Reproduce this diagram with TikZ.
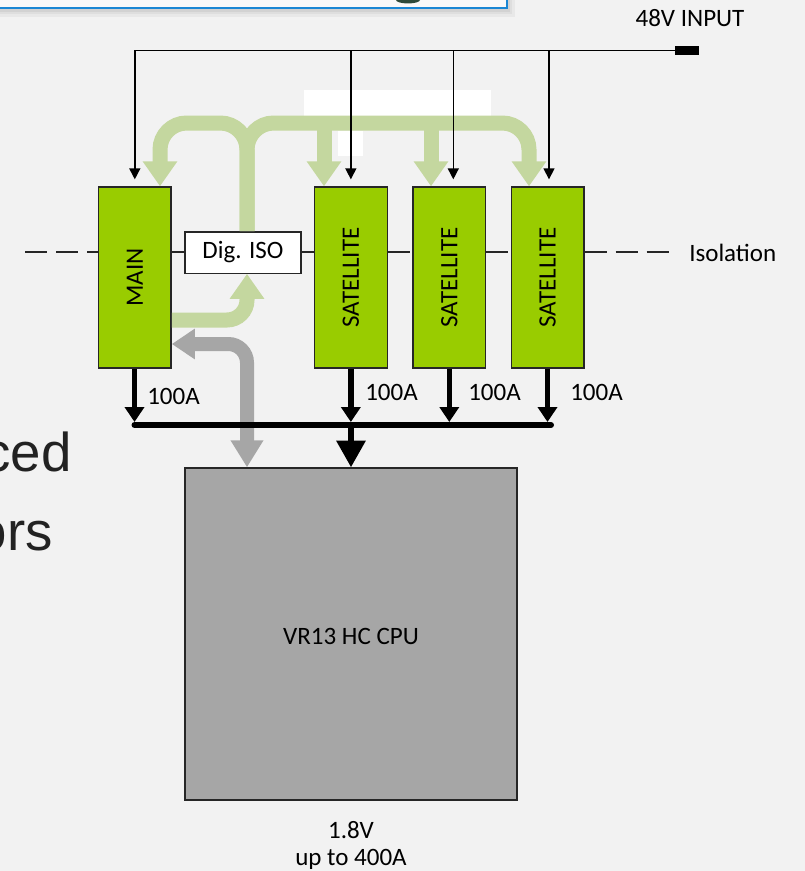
\documentclass[tikz,border=0pt]{standalone}
\usepackage{fontspec}
\setmainfont{Carlito}
\newfontfamily\arialfont{Liberation Sans}
\usetikzlibrary{arrows.meta,calc}
\definecolor{bg}{HTML}{F2F2F2}
\definecolor{boxgreen}{HTML}{99CC00}
\definecolor{bandgreen}{HTML}{C4D79F}
\definecolor{bandgrey}{HTML}{A6A6A6}
\definecolor{edgecol}{HTML}{262626}
\definecolor{slideblue}{HTML}{1B87D4}
\definecolor{blobgreen}{HTML}{2E4A3A}
\definecolor{bigtext}{HTML}{222222}
\begin{document}
\begin{tikzpicture}[x=0.75pt,y=-0.75pt,
  font=\fontsize{18.75}{22}\selectfont,
  unitbox/.style={draw=edgecol, line width=1pt, fill=boxgreen, minimum width=54.5pt, minimum height=135.75pt, inner sep=0pt},
  plainbox/.style={draw=edgecol, line width=1pt, inner sep=0pt},
  lbl/.style={inner sep=0pt},
  gband/.style={draw=bandgreen, line width=11.25pt},
  gtip/.style={-{Triangle[width=24.75pt,length=18.75pt]}},
  feed/.style={draw=black, line width=1.1pt, -{Triangle[width=8.25pt,length=8.25pt]}, shorten >=5.25pt},
  cur/.style={draw=black, line width=4.1pt, -{Triangle[width=14.25pt,length=11.25pt]}},
  isodash/.style={draw=edgecol, line width=1pt, dash pattern=on 16.5pt off 6.75pt},
  isosolid/.style={draw=edgecol, line width=1pt}
]
\useasboundingbox (0,0) rectangle (805,871);
\fill[bg] (0,0) rectangle (805,871);

% slide box remnant at top
\fill[black, opacity=0.04] (-12,-12) rectangle (515,17);
\fill[black, opacity=0.04] (-12,-12) rectangle (512,14);
\fill[black, opacity=0.05] (-12,-12) rectangle (510,12);
\draw[slideblue, line width=1.5pt, fill=white!55!bg] (-12,-12) rectangle (507,8);
\fill[blobgreen] (408,0) ellipse [x radius=9pt, y radius=2.6pt];

% large slide text fragments
\node[lbl, anchor=base east, text=bigtext, font=\arialfont\fontsize{41}{41}\selectfont] (bigA) at (72,471) {ced};
\node[lbl, anchor=base east, text=bigtext, font=\arialfont\fontsize{41}{41}\selectfont] (bigB) at (53,550) {ors};

% helper coordinates
\coordinate (gx) at (247,0);
\coordinate (topband) at (0,123);
\coordinate (mleg) at (160,0);
\coordinate (s1leg) at (324,0);
\coordinate (s2leg) at (431,0);
\coordinate (s3leg) at (529,0);
\coordinate (gmain) at (0,320);
\coordinate (gygrey) at (0,344);
\coordinate (isoy) at (0,252);
\coordinate (isoL) at (25,252);
\coordinate (isoR) at (675,252);
\coordinate (busL) at (134.5,425);
\coordinate (busR) at (551,425);
\coordinate (busM) at (351,425);
\coordinate (bustop) at (0,422);

% boxes
\node[unitbox] (main) at (134.8,277.5) {};
\node[unitbox] (sat1) at (350.85,277.5) {};
\node[unitbox] (sat2) at (449.3,277.5) {};
\node[unitbox] (sat3) at (547.5,277.5) {};
\node[lbl, rotate=90] (mainlbl) at (main.center) {MAIN};
\node[lbl, rotate=90] (s1lbl) at (sat1.center) {SATELLITE};
\node[lbl, rotate=90] (s2lbl) at (sat2.center) {SATELLITE};
\node[lbl, rotate=90] (s3lbl) at (sat3.center) {SATELLITE};
\node[plainbox, fill=white, minimum width=87pt, minimum height=31pt] (digiso) at (243,252.5) {Dig. ISO};
\node[plainbox, fill=bandgrey, minimum width=249pt, minimum height=249pt] (cpu) at (351,634) {};
\node[lbl] (cpulbl) at (351,636) {VR13 HC CPU};

% isolation line
\draw[isodash] (isoL) -- (main.west |- isoy);
\draw[isosolid] (main.east |- isoy) -- (digiso.west |- isoy);
\draw[isosolid] (digiso.east |- isoy) -- (sat1.west |- isoy);
\draw[isodash] (sat1.east |- isoy) -- (sat2.west |- isoy);
\draw[isodash] (sat2.east |- isoy) -- (sat3.west |- isoy);
\draw[isodash] (sat3.east |- isoy) -- (isoR);
\node[lbl, anchor=west] (isolbl) at (689,253) {Isolation};

% white patches
\fill[white] (304,90) rectangle (491,115.5);
\fill[white] (338,130.5) rectangle (363,156);

% green communication bands
\draw[gband, gtip, rounded corners=15pt] (main.east |- gmain) -- (gx |- gmain) -- (gx |- digiso.south);
\draw[gband, gtip, rounded corners=20pt] (gx |- digiso.north) -- (gx |- topband) -- (mleg |- topband) -- (mleg |- main.north);
\draw[gband, gtip, rounded corners=20pt] (gx |- digiso.north) -- (gx |- topband) -- (s3leg |- topband) -- (s3leg |- sat3.north);
\draw[gband, gtip] (s1leg |- topband) -- (s1leg |- sat1.north);
\draw[gband, gtip] (s2leg |- topband) -- (s2leg |- sat2.north);

% grey bidirectional band
\draw[draw=bandgrey, line width=10.5pt, rounded corners=14pt,
  {Triangle[width=21.75pt,length=17.25pt]}-{Triangle[width=23.25pt,length=20.25pt]}]
  (main.east |- gygrey) -- (gx |- gygrey) -- (gx |- cpu.north);

% 48V input
\node[fill=black, minimum width=18pt, minimum height=6.75pt, inner sep=0pt] (in48) at (687,50.5) {};
\node[lbl] (in48lbl) at (690,18) {48V INPUT};
\draw[feed] (in48.west) -| (main.north);
\draw[feed] (sat1.north |- in48) -- (sat1.north);
\draw[feed] ($(sat2.north |- in48)+(4,0)$) -- ($(sat2.north)+(4,0)$);
\draw[feed] ($(sat3.north |- in48)+(1.5,0)$) -- ($(sat3.north)+(1.5,0)$);

% current paths
\draw[line width=4.5pt, line cap=round] (busL) -- (busR);
\draw[cur] (main.south -| busL) -- (busL |- bustop);
\draw[cur] (sat1.south) -- (sat1.south |- bustop);
\draw[cur] (sat2.south) -- (sat2.south |- bustop);
\draw[cur] (sat3.south) -- (sat3.south |- bustop);
\draw[draw=black, line width=4.5pt, -{Triangle[width=21pt,length=20pt]}] (busM) -- (cpu.north);

\node[lbl, anchor=west] (amain) at (147,396) {100A};
\node[lbl, anchor=west] (as1) at (365,392) {100A};
\node[lbl, anchor=west] (as2) at (468,392) {100A};
\node[lbl, anchor=west] (as3) at (570,392) {100A};

\node[lbl] (v18) at (351,830) {1.8V};
\node[lbl] (v400) at (351,859.5) {up to 400A};
\end{tikzpicture}
\end{document}
